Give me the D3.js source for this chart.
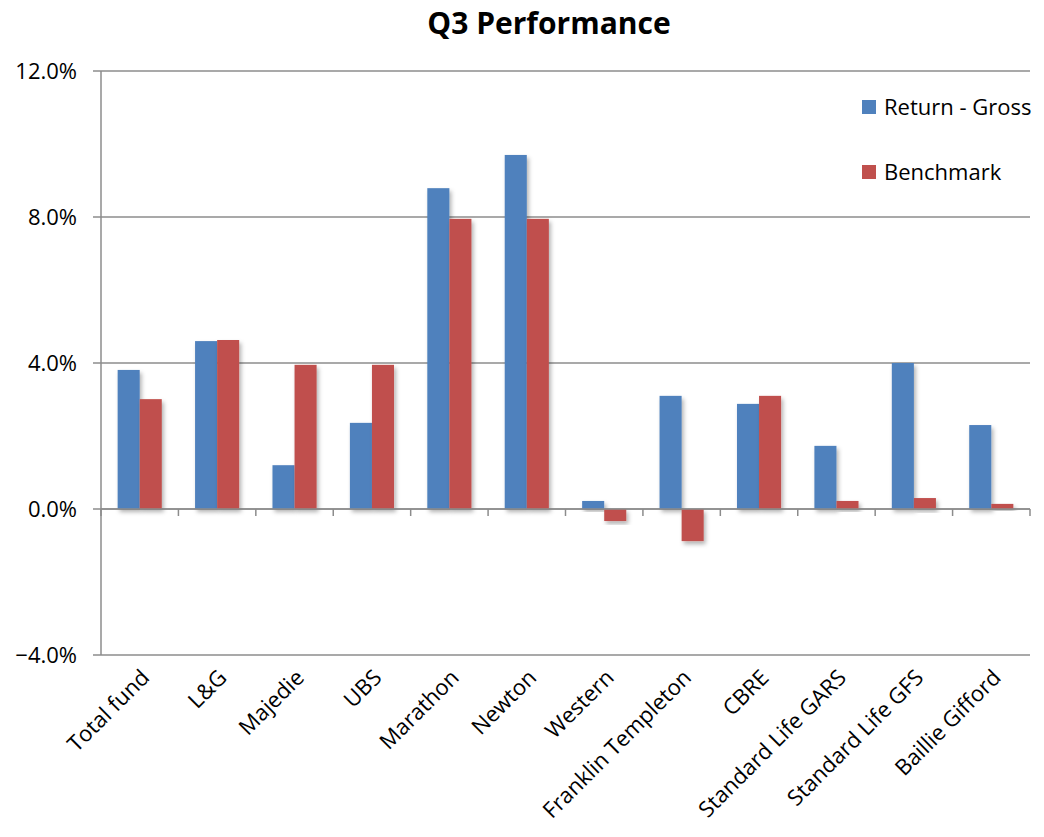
<!DOCTYPE html>
<html>
<head>
<meta charset="utf-8">
<script src="https://cdn.jsdelivr.net/npm/d3@7"></script>
<style>
  body { margin: 0; background: #fff; }
  text { font-family: "Open Sans", "Noto Sans", sans-serif; fill: #000; }
</style>
</head>
<body>
<svg id="chart" width="1044" height="837"></svg>
<script>
const categories = ["Total fund", "L&G", "Majedie", "UBS", "Marathon", "Newton", "Western",
  "Franklin Templeton", "CBRE", "Standard Life GARS", "Standard Life GFS", "Baillie Gifford"];
const series = ["Return - Gross", "Benchmark"];
const returnGross = [3.81, 4.60, 1.20, 2.36, 8.79, 9.70, 0.22, 3.10, 2.88, 1.73, 4.00, 2.30];
const benchmark = [3.01, 4.63, 3.95, 3.95, 7.95, 7.95, -0.33, -0.88, 3.10, 0.22, 0.30, 0.14];
const yTicks = [-4, 0, 4, 8, 12];
const colors = ["#4F81BD", "#C0504D"];

const svg = d3.select("#chart");
const plotLeft = 101, plotRight = 1030, plotTop = 71, plotBottom = 655;

const x0 = d3.scaleBand().domain(categories).range([plotLeft, plotRight])
  .paddingInner(0.43).paddingOuter(0.215);
const x1 = d3.scaleBand().domain(series).range([0, x0.bandwidth()]);
const y = d3.scaleLinear().domain([-4, 12]).range([plotBottom, plotTop]);
const color = d3.scaleOrdinal().domain(series).range(colors);

// shadow under bars
const defs = svg.append("defs");
const f = defs.append("filter").attr("id", "shadow")
  .attr("x", "-20%").attr("y", "-20%").attr("width", "150%").attr("height", "150%");
f.append("feDropShadow").attr("dx", 2).attr("dy", 3).attr("stdDeviation", 2)
  .attr("flood-color", "#000").attr("flood-opacity", 0.3);

// title
svg.append("text")
  .attr("x", 549).attr("y", 34)
  .attr("text-anchor", "middle")
  .style("font-size", "30px").style("font-weight", "bold")
  .text("Q3 Performance");

// gridlines
svg.append("g")
  .selectAll("line")
  .data(yTicks)
  .join("line")
  .attr("x1", plotLeft - 8).attr("x2", plotRight)
  .attr("y1", d => y(d)).attr("y2", d => y(d))
  .style("stroke", "#8c8c8c").style("stroke-width", 1.3);

// y tick labels
svg.append("g")
  .selectAll("text")
  .data(yTicks)
  .join("text")
  .attr("x", 77).attr("y", d => y(d) + 8)
  .attr("text-anchor", "end")
  .style("font-size", "22px")
  .text(d => d3.format(".1f")(d) + "%");

// y axis line
svg.append("line")
  .attr("x1", plotLeft).attr("x2", plotLeft).attr("y1", plotTop).attr("y2", plotBottom)
  .style("stroke", "#8c8c8c").style("stroke-width", 1.5);

// bars
const rows = categories.map((c, i) => ({ cat: c, vals: [returnGross[i], benchmark[i]] }));
svg.append("g")
  .selectAll("g")
  .data(rows)
  .join("g")
  .attr("transform", d => `translate(${x0(d.cat)},0)`)
  .selectAll("rect")
  .data(d => d.vals.map((v, j) => ({ key: series[j], value: v })))
  .join("rect")
  .attr("x", d => x1(d.key))
  .attr("width", x1.bandwidth())
  .attr("y", d => y(Math.max(0, d.value)))
  .attr("height", d => Math.abs(y(d.value) - y(0)))
  .attr("fill", d => color(d.key))
  .attr("filter", "url(#shadow)");

// x axis at zero with ticks
const step = (plotRight - plotLeft) / categories.length;
svg.append("line")
  .attr("x1", plotLeft).attr("x2", plotRight).attr("y1", y(0)).attr("y2", y(0))
  .style("stroke", "#8c8c8c").style("stroke-width", 1.5);
svg.append("g")
  .selectAll("line")
  .data(d3.range(categories.length + 1))
  .join("line")
  .attr("x1", d => plotLeft + d * step).attr("x2", d => plotLeft + d * step)
  .attr("y1", y(0)).attr("y2", y(0) + 7)
  .style("stroke", "#8c8c8c").style("stroke-width", 1.5);

// category labels, rotated
svg.append("g")
  .selectAll("text")
  .data(categories)
  .join("text")
  .attr("transform", d => `translate(${x0(d) + x0.bandwidth() / 2 + 11},${y(-4) + 24}) rotate(-45)`)
  .attr("text-anchor", "end")
  .style("font-size", "22px")
  .text(d => d);

// legend
const legend = svg.append("g")
  .selectAll("g")
  .data(series)
  .join("g")
  .attr("transform", (d, i) => `translate(862,${100 + i * 65})`);
legend.append("rect")
  .attr("width", 14).attr("height", 14)
  .attr("fill", d => color(d));
legend.append("text")
  .attr("x", 22).attr("y", 15)
  .style("font-size", "22px")
  .text(d => d);
</script>
</body>
</html>
